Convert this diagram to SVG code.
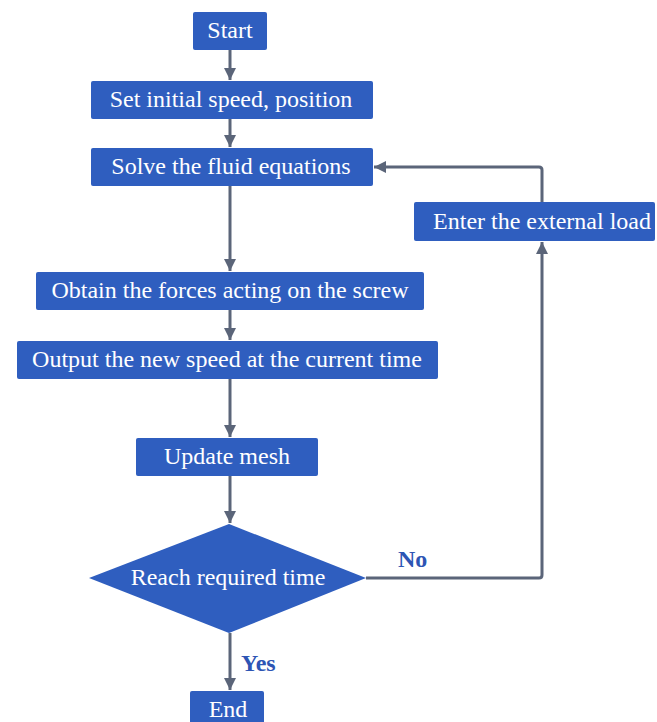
<svg xmlns="http://www.w3.org/2000/svg" width="657" height="722" viewBox="0 0 657 722">
<style>
.box{fill:#2F5EBF;}
.t{font-family:"Liberation Serif","Times New Roman",serif;font-size:24px;fill:#ffffff;text-anchor:middle;dominant-baseline:central;}
.lbl{font-family:"Liberation Serif","Times New Roman",serif;font-size:24px;font-weight:bold;fill:#2D55B4;}
.c{fill:none;stroke:#5B6579;stroke-width:3;marker-end:url(#ah);}
</style>
<defs>
<marker id="ah" markerWidth="4" markerHeight="4.5" refX="4" refY="2" orient="auto" markerUnits="strokeWidth" viewBox="0 0 4 4">
<path d="M0,0 L4,2 L0,4 Z" fill="#5B6579"/>
</marker>
</defs>
<rect width="657" height="722" fill="#ffffff"/>
<g id="connectors">
<path class="c" d="M230,50 V80"/>
<path class="c" d="M230,119 V147"/>
<path class="c" d="M230,186 V271"/>
<path class="c" d="M230,310 V340"/>
<path class="c" d="M230,379 V437"/>
<path class="c" d="M230,476 V523"/>
<path class="c" d="M230,633 V690"/>
<path class="c" d="M366,578 H539 Q542,578 542,575 V242"/>
<path class="c" d="M542,202 V170 Q542,167 539,167 H374"/>
</g>
<g id="start"><rect class="box" x="193" y="12" width="74" height="38" rx="2"/><text class="t" x="230" y="30">Start</text></g>
<g id="init"><rect class="box" x="91" y="81" width="282" height="38" rx="2"/><text class="t" x="231" y="99">Set initial speed, position</text></g>
<g id="solve"><rect class="box" x="91" y="148" width="282" height="38" rx="2"/><text class="t" x="231" y="166">Solve the fluid equations</text></g>
<g id="load"><rect class="box" x="414" y="202" width="241" height="39" rx="2"/><text class="t" x="542" y="220.5">Enter the external load</text></g>
<g id="forces"><rect class="box" x="36" y="272" width="388" height="38" rx="2"/><text class="t" x="230" y="290">Obtain the forces acting on the screw</text></g>
<g id="output"><rect class="box" x="17" y="341" width="421" height="38" rx="2"/><text class="t" x="227" y="359">Output the new speed at the current time</text></g>
<g id="mesh"><rect class="box" x="136" y="438" width="182" height="38" rx="2"/><text class="t" x="227" y="456">Update mesh</text></g>
<g id="decision"><polygon class="box" points="229,524 366,578 229,633 89,578"/><text class="t" x="228" y="577">Reach required time</text></g>
<g id="end"><rect class="box" x="190" y="691" width="74" height="38" rx="2"/><text class="t" x="228" y="709">End</text></g>
<text class="lbl" x="398" y="567">No</text>
<text class="lbl" x="241" y="671">Yes</text>
</svg>
